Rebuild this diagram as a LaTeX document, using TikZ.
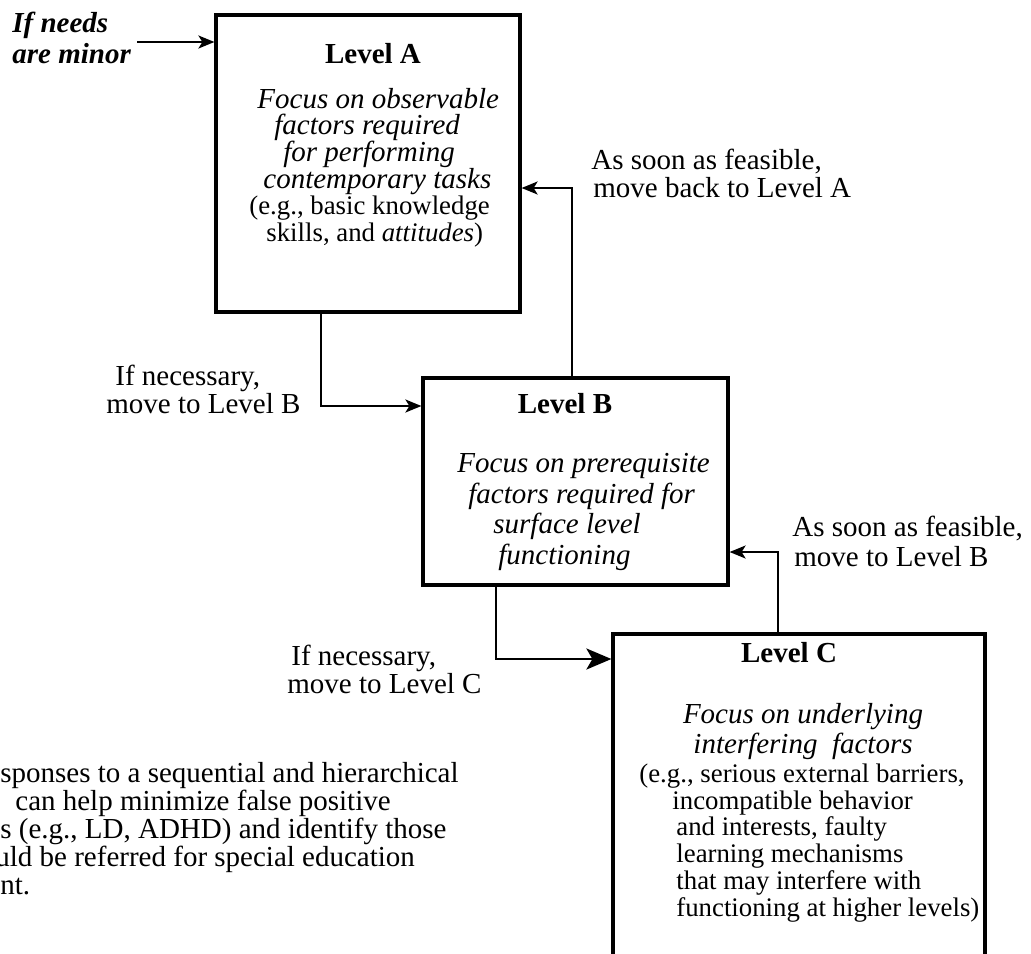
\documentclass[tikz,border=0pt]{standalone}
\usepackage{fontspec}
\setmainfont{Liberation Serif}
\usepackage{tikz}
\usetikzlibrary{arrows.meta, fit}

\newcommand{\smallrm}{\fontsize{13.4}{13.35}\selectfont\upshape}
\lineskiplimit=-6pt

\begin{document}
\begin{tikzpicture}[
  x=0.5pt, y=-0.5pt,
  levelbox/.style={draw, line width=1.6pt, inner sep=0pt},
  title/.style={font=\fontsize{14.5}{15}\selectfont\bfseries, inner sep=0pt, anchor=base},
  focus/.style={font=\fontsize{14.5}{15}\selectfont\itshape, align=center, inner sep=0pt, anchor=north},
  lbl/.style={font=\fontsize{14.5}{14}\selectfont, align=left, inner xsep=3pt, inner ysep=0pt, anchor=north west},
  arr/.style={-{Stealth[length=8pt, width=6.5pt, inset=2pt]}, line width=1pt},
  bigarr/.style={-{Stealth[length=12.5pt, width=10.5pt, inset=3pt]}, line width=1.3pt}
]
\useasboundingbox[fill=white] (0,0) rectangle (1031,953);

% Level boxes
\node[levelbox, fit={(216,15) (520,312)}] (lvA) {};
\node[levelbox, fit={(423,378) (728,585)}] (lvB) {};
\node[levelbox, fit={(613,634) (985,1010)}] (lvC) {};

% Level A
\node[title] (titleA) at (373,63) {Level A};
\node[focus, align=left, anchor=north west, font=\fontsize{14.5}{13.35}\selectfont\itshape] (bodyA) at (249,87.5) {\hspace*{4pt}Focus on observable\\ \hspace*{12.5pt}factors required\\ \hspace*{17pt}for performing\\ \hspace*{7pt}contemporary tasks\\ {\smallrm (e.g., basic knowledge}\\ {\smallrm \hspace*{8.5pt}skills, and \textit{attitudes})}};

% Level B
\node[title] (titleB) at (565,413) {Level B};
\node[focus, align=left, anchor=north west, font=\fontsize{14.5}{15.3}\selectfont\itshape] (bodyB) at (457,453) {Focus on prerequisite\\ \hspace*{5.5pt}factors required for\\ \hspace*{18pt}surface level\\ \hspace*{20.5pt}functioning};

% Level C
\node[title] (titleC) at (789,662) {Level C};
\node[focus] (focusC) at (803,703) {Focus on underlying\\ interfering~ factors};
\node[font=\smallrm, align=left, inner sep=0pt, anchor=north west] (bodyC) at (676,763.5) {\hspace*{-18.5pt}(e.g., serious external barriers,\\ \hspace*{-2pt}incompatible behavior\\ and interests, faulty\\ learning mechanisms\\ that may interfere with\\ functioning at higher levels)};

% Side labels
\node[lbl, font=\fontsize{14.5}{15.5}\selectfont\bfseries\itshape] (needs) at (6,12) {If needs\\ are minor};
\node[lbl] (necB) at (100,365) {\hspace*{4.5pt}If necessary,\\ move to Level B};
\node[lbl] (feasA) at (585,149) {As soon as feasible,\\ \hspace*{1pt}move back to Level A};
\node[lbl, font=\fontsize{14.5}{15}\selectfont] (feasB) at (786,516) {As soon as feasible,\\ \hspace*{1pt}move to Level B};
\node[lbl] (necC) at (281,645) {\hspace*{2pt}If necessary,\\ move to Level C};

% Note (cut at the left edge)
\node[font=\fontsize{14.5}{14}\selectfont, align=left, inner sep=0pt, anchor=north west] (note) at (0,762) {sponses to a sequential and hierarchical\\ \hspace*{7.5pt}can help minimize false positive\\ s (e.g., LD, ADHD) and identify those\\ \hspace*{-2.5pt}uld be referred for special education\\ nt.};

% Connectors
\coordinate (inA) at (0,42);
\draw[arr] (needs.east |- inA) -- (lvA.west |- inA);
\coordinate (turnAB) at (321,406);
\draw[arr] (lvA.south -| turnAB) |- (lvB.west |- turnAB);
\coordinate (turnBA) at (572,188);
\draw[arr] (lvB.north -| turnBA) |- (lvA.east |- turnBA);
\coordinate (turnBC) at (496,659);
\draw[bigarr] (lvB.south -| turnBC) |- (lvC.west |- turnBC);
\coordinate (turnCB) at (778,552);
\draw[arr] (lvC.north -| turnCB) |- (lvB.east |- turnCB);

\end{tikzpicture}
\end{document}
